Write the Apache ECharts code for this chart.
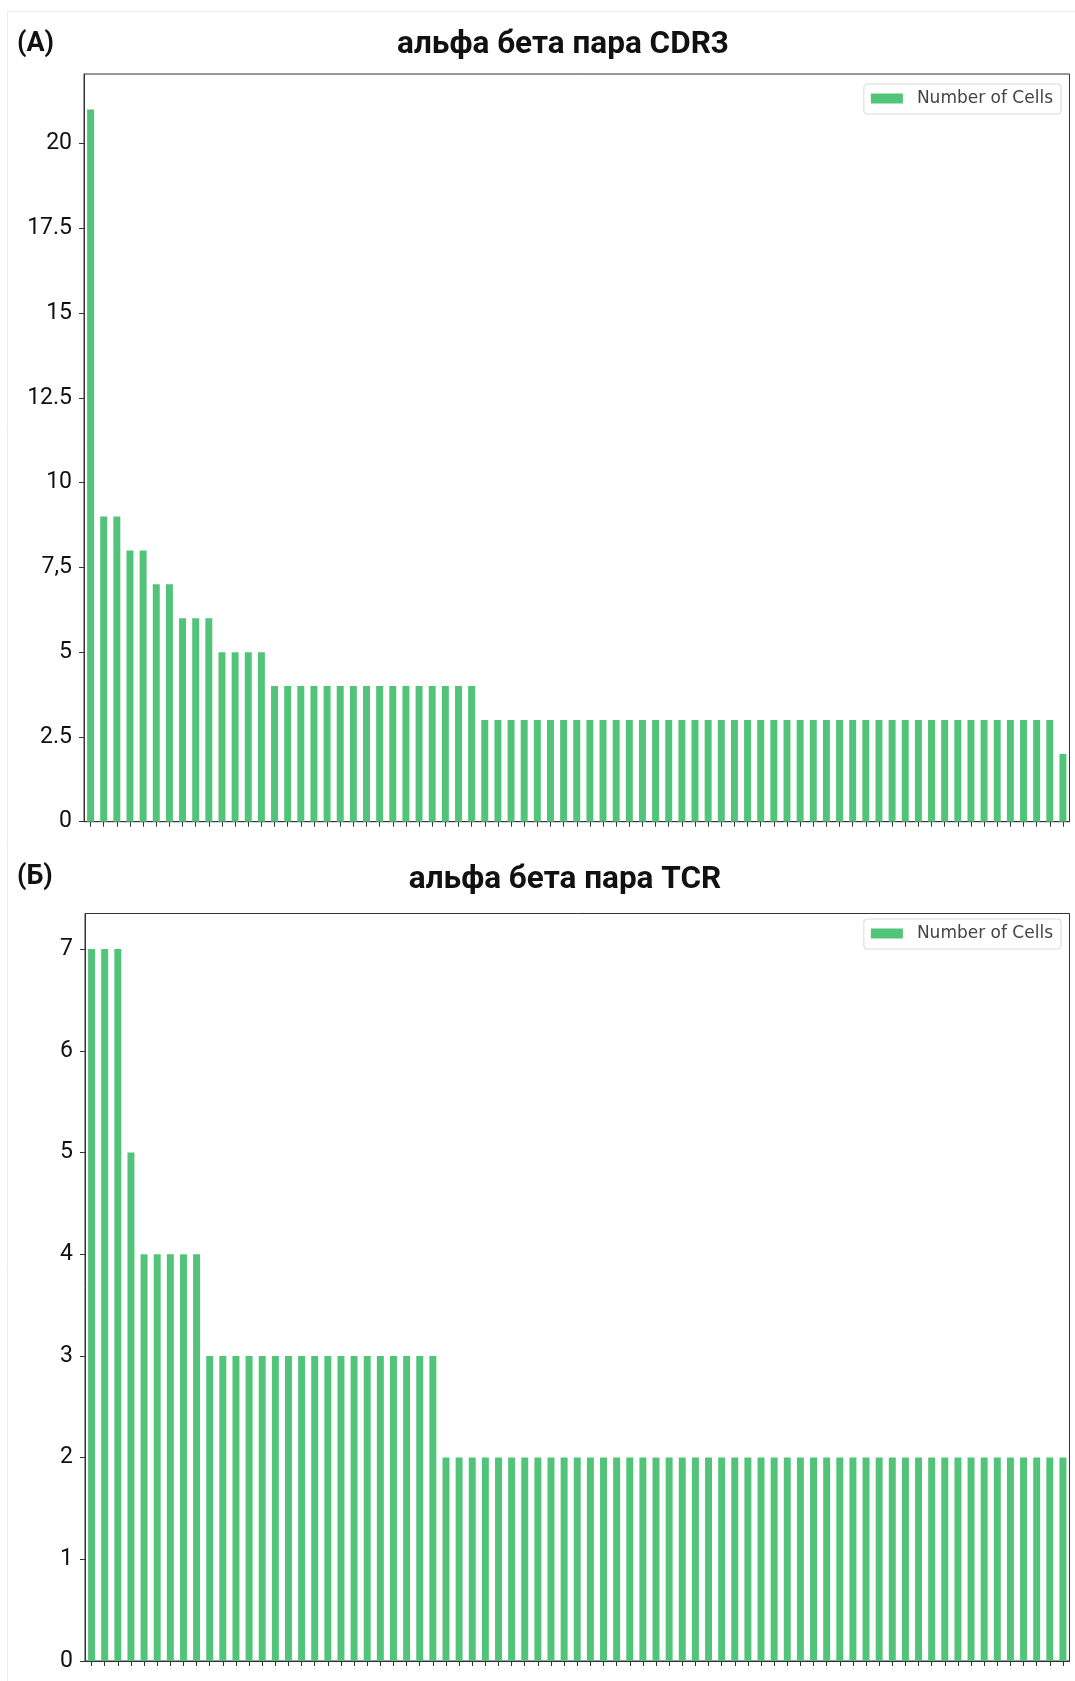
<!DOCTYPE html>
<html>
<head>
<meta charset="utf-8">
<script src="https://cdn.jsdelivr.net/npm/echarts@6/dist/echarts.min.js"></script>
<style>
  html, body { margin: 0; padding: 0; background: #ffffff; }
  #chart { width: 1075px; height: 1681px; }
</style>
</head>
<body>
<div id="chart"></div>
<script>
// Clone counts (cells per clonotype), sorted in descending order
const seriesName = 'Number of Cells';

const cdr3Counts = [
  21,
  9, 9, 8, 8, 7, 7, 6, 6, 6,
  5, 5, 5, 5,
  4, 4, 4, 4, 4, 4, 4, 4, 4, 4, 4, 4, 4, 4, 4, 4,
  3, 3, 3, 3, 3, 3, 3, 3, 3, 3,
  3, 3, 3, 3, 3, 3, 3, 3, 3, 3,
  3, 3, 3, 3, 3, 3, 3, 3, 3, 3,
  3, 3, 3, 3, 3, 3, 3, 3, 3, 3,
  3, 3, 3, 3,
  2
];

const tcrCounts = [
  7, 7, 7, 5,
  4, 4, 4, 4, 4,
  3, 3, 3, 3, 3, 3, 3, 3, 3, 3,
  3, 3, 3, 3, 3, 3, 3, 3,
  2, 2, 2, 2, 2, 2, 2, 2, 2, 2,
  2, 2, 2, 2, 2, 2, 2, 2, 2, 2,
  2, 2, 2, 2, 2, 2, 2, 2, 2, 2,
  2, 2, 2, 2, 2, 2, 2, 2, 2, 2,
  2, 2, 2, 2, 2, 2, 2, 2
];

// Clonotype ranks used as (hidden) category names
const cdr3Categories = cdr3Counts.map((_, i) => 'CDR3 #' + (i + 1));
const tcrCategories = tcrCounts.map((_, i) => 'TCR #' + (i + 1));

// Y tick positions and their printed labels
const cdr3TickValues = [0, 2.5, 5, 7.5, 10, 12.5, 15, 17.5, 20];
const cdr3TickLabels = ['0', '2.5', '5', '7,5', '10', '12.5', '15', '17.5', '20'];
const tcrTickValues = [0, 1, 2, 3, 4, 5, 6, 7];
const tcrTickLabels = ['0', '1', '2', '3', '4', '5', '6', '7'];

const panelTitles = ['альфа бета пара CDR3', 'альфа бета пара TCR'];
const panelLetters = ['(А)', '(Б)'];

const BAR_COLOR = '#52c47a';
const AXIS_COLOR = '#333333';

function labelFor(values, labels) {
  return function (v) {
    for (let i = 0; i < values.length; i++) {
      if (Math.abs(values[i] - v) < 1e-9) return labels[i];
    }
    return '';
  };
}

function xAxisFor(gridIndex, cats) {
  return {
    type: 'category',
    gridIndex: gridIndex,
    data: cats,
    boundaryGap: true,
    axisLine: { show: true, lineStyle: { color: AXIS_COLOR, width: 1 } },
    axisTick: { show: true, alignWithLabel: true, interval: 0, length: 5, lineStyle: { color: AXIS_COLOR } },
    axisLabel: { show: false, interval: 0 },
    splitLine: { show: false }
  };
}

function yAxisFor(gridIndex, maxVal, values, labels) {
  return {
    type: 'value',
    gridIndex: gridIndex,
    min: 0,
    max: maxVal,
    axisLine: { show: true, lineStyle: { color: AXIS_COLOR, width: 1 } },
    axisTick: { show: true, length: 5, customValues: values, lineStyle: { color: AXIS_COLOR } },
    axisLabel: {
      customValues: values,
      formatter: labelFor(values, labels),
      fontFamily: 'Roboto',
      fontSize: 23,
      color: '#111111',
      margin: 12
    },
    splitLine: { show: false }
  };
}

function legendFor(top) {
  return {
    data: [seriesName],
    right: 14,
    top: top,
    orient: 'horizontal',
    icon: 'rect',
    itemWidth: 32,
    itemHeight: 10,
    itemGap: 10,
    padding: [6, 8, 7, 7],
    backgroundColor: '#ffffff',
    borderColor: '#d9d9d9',
    borderWidth: 1,
    borderRadius: 3,
    textStyle: { fontFamily: 'DejaVu Sans', fontSize: 17, color: '#444444', padding: [0, 0, 0, 9] }
  };
}

function titleText(text, x, y, size) {
  return {
    type: 'text',
    x: x,
    y: y,
    style: {
      text: text,
      fontFamily: 'Roboto',
      fontWeight: 'bold',
      fontSize: size,
      fill: '#111111',
      align: x < 100 ? 'left' : 'center',
      verticalAlign: 'middle'
    }
  };
}

const chart = echarts.init(document.getElementById('chart'), null, { renderer: 'canvas' });

chart.setOption({
  animation: false,
  backgroundColor: '#ffffff',
  grid: [
    { left: 84, right: 5.5, top: 74, height: 747.7, show: true, borderColor: AXIS_COLOR, borderWidth: 1, containLabel: false },
    { left: 85, right: 5.5, top: 913.5, height: 747.5, show: true, borderColor: AXIS_COLOR, borderWidth: 1, containLabel: false }
  ],
  xAxis: [xAxisFor(0, cdr3Categories), xAxisFor(1, tcrCategories)],
  yAxis: [
    yAxisFor(0, Math.max(...cdr3Counts) * 1.05, cdr3TickValues, cdr3TickLabels),
    yAxisFor(1, Math.max(...tcrCounts) * 1.05, tcrTickValues, tcrTickLabels)
  ],
  legend: [legendFor(84), legendFor(919)],
  series: [
    {
      name: seriesName,
      type: 'bar',
      xAxisIndex: 0,
      yAxisIndex: 0,
      data: cdr3Counts,
      barWidth: '53%',
      itemStyle: { color: BAR_COLOR }
    },
    {
      name: seriesName,
      type: 'bar',
      xAxisIndex: 1,
      yAxisIndex: 1,
      data: tcrCounts,
      barWidth: '53%',
      itemStyle: { color: BAR_COLOR }
    }
  ],
  graphic: [
    {
      type: 'rect',
      shape: { x: 7.5, y: 11.5, width: 1100, height: 1700 },
      style: { fill: 'none', stroke: '#ececec', lineWidth: 1 },
      silent: true,
      z: -10
    },
    titleText(panelLetters[0], 17, 44, 27),
    titleText(panelTitles[0], 563, 45, 31.5),
    titleText(panelLetters[1], 17, 877, 27),
    titleText(panelTitles[1], 565, 880, 31.5)
  ]
});
</script>
</body>
</html>
